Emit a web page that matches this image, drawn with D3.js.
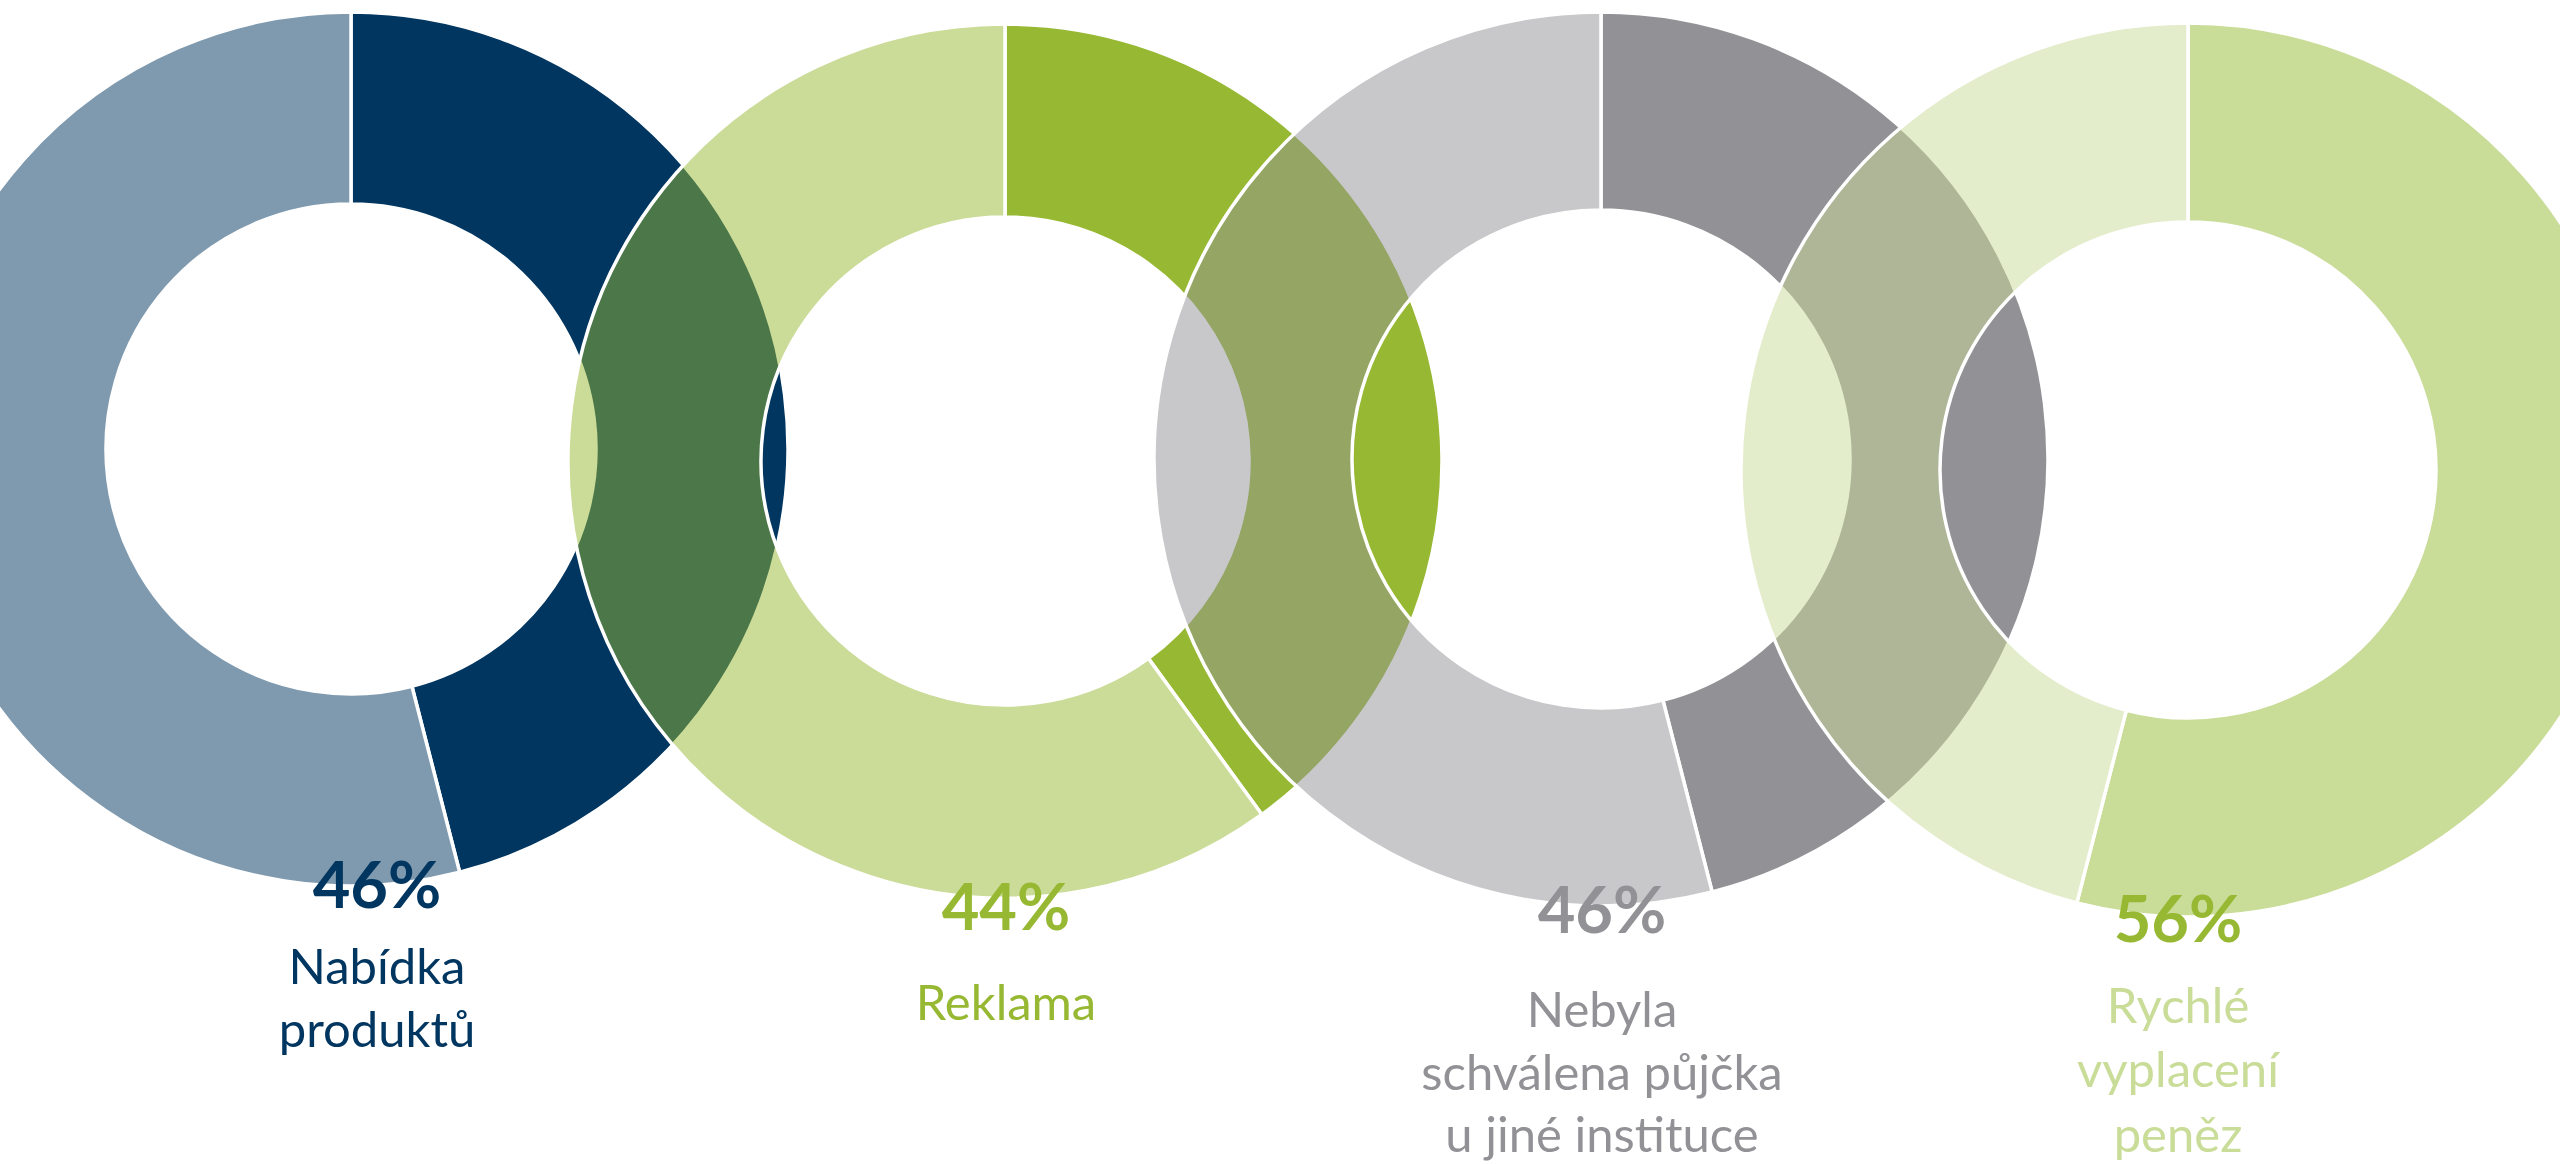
<!DOCTYPE html>
<html>
<head>
<meta charset="utf-8">
<script src="https://cdn.jsdelivr.net/npm/d3@7"></script>
<style>
  html, body { margin: 0; padding: 0; background: #fff; overflow: hidden; }
  text { font-family: Lato, "Open Sans", sans-serif; }
</style>
</head>
<body>
<div id="chart"></div>
<script>
// data
const labels = [["Nabídka", "produktů"], ["Reklama"], ["Nebyla", "schválena půjčka", "u jiné instituce"], ["Rychlé", "vyplacení", "peněz"]];
const pctLabels = ["46%", "44%", "46%", "56%"];
// slice sizes as drawn in the picture (they don't all match the printed %)
const sliceValues = [46, 40, 46, 54];
const ringColors = ["#003660", "#97b832", "#929196", "#c9dc98"];
const pctColors = ["#003660", "#97b832", "#929196", "#97b832"];
const textColors = ["#003660", "#97b832", "#929196", "#c9dc98"];

// layout (slide positions)
const width = 2560, height = 1164;
const centers = [[351, 449], [1005, 461], [1601, 459], [2188, 470]];
const outerR = [437, 437, 447, 447];
const innerR = [245, 244, 249, 248];
const labelX = [377, 1006, 1602, 2178];
const pctY = [908, 930, 933, 942];
const lineY = [[984, 1047], [1020], [1027, 1090, 1152], [1023, 1087, 1152]];

const svg = d3.select("#chart")
    .append("svg")
    .attr("width", width)
    .attr("height", height);

const pie = d3.pie().sort(null).value(d => d);

// draw rings left to right so later ones sit on top
sliceValues.forEach((v, i) => {
    const arc = d3.arc().innerRadius(innerR[i]).outerRadius(outerR[i]);
    const g = svg.append("g")
        .attr("transform", `translate(${centers[i][0]}, ${centers[i][1]})`);

    g.selectAll("path")
        .data(pie([v, 100 - v]))
        .enter()
        .append("path")
        .attr("d", arc)
        .attr("fill", ringColors[i])
        .attr("fill-opacity", (d, j) => j === 0 ? 1 : 0.5)
        .attr("stroke", "#fff")
        .attr("stroke-width", 3.5);
});

// labels
pctLabels.forEach((p, i) => {
    svg.append("text")
        .attr("x", labelX[i])
        .attr("y", pctY[i])
        .attr("text-anchor", "middle")
        .attr("font-size", 65)
        .attr("font-weight", "bold")
        .attr("fill", pctColors[i])
        .text(p);

    svg.append("g")
        .selectAll("text")
        .data(labels[i])
        .enter()
        .append("text")
        .attr("x", labelX[i])
        .attr("y", (d, j) => lineY[i][j])
        .attr("text-anchor", "middle")
        .attr("font-size", 49)
        .attr("fill", textColors[i])
        .text(d => d);
});
</script>
</body>
</html>
